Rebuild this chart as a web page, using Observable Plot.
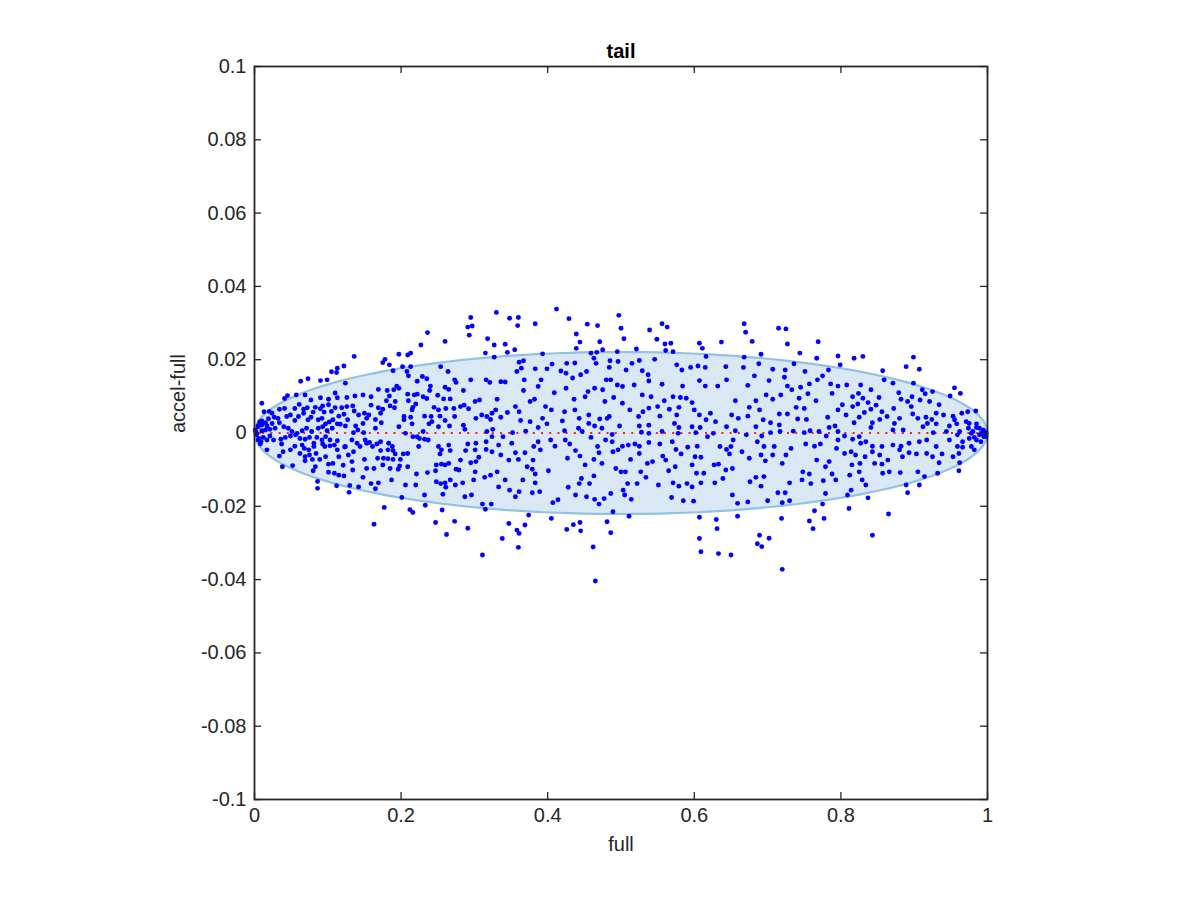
<!DOCTYPE html>
<html>
<head>
<meta charset="utf-8">
<script src="https://cdn.jsdelivr.net/npm/d3@7"></script>
<script src="https://cdn.jsdelivr.net/npm/@observablehq/plot@0.6"></script>
<style>
  html, body { margin: 0; padding: 0; background: #ffffff; }
  #chart svg { display: block; }
</style>
</head>
<body>
<div id="chart"></div>
<script>
// ---- tick values and labels ----
const xTicks = [0, 0.2, 0.4, 0.6, 0.8, 1];
const xTickLabels = ["0", "0.2", "0.4", "0.6", "0.8", "1"];
const yTicks = [-0.1, -0.08, -0.06, -0.04, -0.02, 0, 0.02, 0.04, 0.06, 0.08, 0.1];
const yTickLabels = ["-0.1", "-0.08", "-0.06", "-0.04", "-0.02", "0", "0.02", "0.04", "0.06", "0.08", "0.1"];

// ---- texts ----
const titleText = "tail";
const xLabel = "full";
const yLabel = "accel-full";

// ---- ellipse (center and semi-axes, data units) ----
const ellipseCenter = [0.5, 0];
const ellipseRadii = [0.5, 0.0221];

// ---- reference line ----
const refLineY = [0];

// ---- scatter samples [full, accel-full] ----
const samples = [
[0.136,0.0209],[0.122,0.0183],[0.113,0.0177],[0.112,0.0165],[0.105,0.0167],[0.124,0.0136],[0.063,0.0141],[0.073,0.0148],[0.090,0.0143],[0.099,0.0145],
[0.045,0.0102],[0.041,0.0094],[0.010,0.0081],[0.057,0.0104],[0.069,0.0104],[0.077,0.0090],[0.090,0.0096],[0.101,0.0092],[0.110,0.0109],[0.113,0.0096],
[0.126,0.0097],[0.137,0.0101],[0.148,0.0104],[0.034,0.0065],[0.024,0.0054],[0.020,0.0059],[0.041,0.0067],[0.055,0.0067],[0.061,0.0078],[0.067,0.0065],
[0.072,0.0069],[0.080,0.0057],[0.083,0.0070],[0.090,0.0066],[0.093,0.0074],[0.101,0.0077],[0.095,0.0057],[0.105,0.0059],[0.110,0.0069],[0.119,0.0069],
[0.126,0.0072],[0.134,0.0074],[0.136,0.0060],[0.142,0.0049],[0.150,0.0054],[0.027,0.0043],[0.013,0.0058],[0.007,0.0030],[0.015,0.0028],[0.019,0.0039],
[0.005,0.0017],[0.010,0.0022],[0.017,0.0019],[0.024,0.0026],[0.032,0.0040],[0.034,0.0028],[0.044,0.0045],[0.049,0.0049],[0.055,0.0034],[0.060,0.0045],
[0.067,0.0054],[0.073,0.0036],[0.077,0.0043],[0.087,0.0036],[0.092,0.0040],[0.097,0.0025],[0.102,0.0030],[0.107,0.0036],[0.115,0.0046],[0.117,0.0024],
[0.122,0.0051],[0.127,0.0036],[0.138,0.0019],[0.148,0.0026],[0.153,0.0040],
[0.003,-0.0001],[0.010,0.0006],[0.015,0.0008],[0.021,0.0010],[0.028,0.0013],[0.040,0.0017],[0.046,0.0013],[0.051,0.0004],[0.058,-0.0001],[0.065,0.0006],
[0.071,0.0013],[0.078,0.0004],[0.087,0.0013],[0.093,0.0017],[0.099,0.0006],[0.106,0.0013],[0.113,0.0025],[0.124,0.0019],[0.135,0.0001],[0.141,0.0008],[0.149,0.0001],
[0.005,-0.0019],[0.012,-0.0012],[0.017,-0.0019],[0.021,-0.0008],[0.026,-0.0019],[0.036,-0.0017],[0.042,-0.0012],[0.049,-0.0008],[0.056,-0.0005],[0.062,-0.0015],
[0.069,-0.0017],[0.075,-0.0012],[0.081,-0.0028],[0.085,-0.0012],[0.092,-0.0019],[0.097,-0.0010],[0.103,-0.0019],[0.109,-0.0033],[0.113,-0.0021],[0.124,-0.0037],
[0.133,-0.0019],[0.140,-0.0028],[0.151,-0.0019],[0.008,-0.0030],[0.017,-0.0046],[0.037,-0.0030],[0.049,-0.0046],[0.055,-0.0036],[0.065,-0.0033],[0.068,-0.0042],
[0.074,-0.0046],[0.081,-0.0037],[0.084,-0.0056],[0.093,-0.0030],[0.096,-0.0037],[0.103,-0.0035],[0.113,-0.0046],[0.123,-0.0038],[0.128,-0.0060],[0.135,-0.0051],
[0.144,-0.0037],[0.153,-0.0028],[0.034,-0.0063],[0.039,-0.0051],[0.062,-0.0056],[0.069,-0.0065],[0.075,-0.0060],[0.079,-0.0072],[0.089,-0.0072],[0.097,-0.0065],
[0.101,-0.0085],[0.107,-0.0083],[0.115,-0.0065],[0.121,-0.0088],[0.133,-0.0078],[0.150,-0.0072],[0.038,-0.0092],[0.052,-0.0089],[0.069,-0.0076],[0.083,-0.0092],
[0.080,-0.0103],[0.101,-0.0107],[0.109,-0.0110],[0.115,-0.0115],[0.122,-0.0117],[0.134,-0.0101],[0.148,-0.0121],[0.153,-0.0097],[0.086,-0.0132],[0.086,-0.0151],
[0.112,-0.0144],[0.130,-0.0143],[0.129,-0.0162],[0.142,-0.0147],
[0.001,0.0008],[0.003,-0.0005],[0.006,-0.0015],[0.005,0.0020],[0.010,0.0033],[0.002,0.0002],[0.009,-0.0024],
[0.295,0.0315],[0.291,0.0289],[0.297,0.0292],[0.293,0.0267],[0.318,0.0257],[0.236,0.0274],[0.260,0.0250],[0.227,0.0240],[0.197,0.0215],[0.209,0.0213],
[0.213,0.0218],[0.178,0.0201],[0.175,0.0192],[0.184,0.0186],[0.202,0.0181],[0.213,0.0181],[0.315,0.0218],[0.189,0.0170],[0.208,0.0168],[0.254,0.0181],[0.264,0.0168],
[0.210,0.0156],[0.229,0.0154],[0.235,0.0148],[0.222,0.0141],[0.194,0.0128],[0.197,0.0122],[0.169,0.0119],[0.181,0.0116],[0.190,0.0118],[0.240,0.0128],
[0.239,0.0116],[0.260,0.0125],[0.265,0.0119],[0.273,0.0145],[0.275,0.0138],[0.295,0.0145],[0.316,0.0145],[0.285,0.0116],[0.222,0.0106],[0.230,0.0099],
[0.235,0.0094],[0.218,0.0104],[0.209,0.0106],[0.250,0.0103],[0.184,0.0101],[0.159,0.0099],[0.180,0.0088],[0.192,0.0086],[0.210,0.0088],[0.220,0.0079],
[0.258,0.0093],[0.267,0.0093],[0.301,0.0086],[0.307,0.0090],[0.159,0.0076],[0.169,0.0069],[0.175,0.0065],[0.185,0.0074],[0.191,0.0069],[0.216,0.0070],
[0.215,0.0063],[0.245,0.0070],[0.251,0.0063],[0.261,0.0067],[0.272,0.0067],[0.281,0.0072],[0.286,0.0076],[0.292,0.0066],[0.310,0.0049],[0.317,0.0045],
[0.156,0.0049],[0.172,0.0054],[0.204,0.0045],[0.213,0.0043],[0.232,0.0046],[0.241,0.0045],[0.253,0.0046],[0.260,0.0034],[0.273,0.0045],[0.302,0.0040],
[0.165,0.0037],[0.173,0.0028],[0.197,0.0017],[0.238,0.0025],[0.242,0.0031],[0.251,0.0017],[0.266,0.0019],[0.285,0.0021],[0.287,0.0010],[0.204,0.0036],[0.215,0.0025],
[0.165,0.0013],[0.206,-0.0001],[0.216,-0.0010],[0.222,-0.0010],[0.225,-0.0015],[0.232,-0.0017],[0.237,-0.0019],[0.230,0.0004],[0.317,0.0004],
[0.157,-0.0026],[0.161,-0.0037],[0.167,-0.0030],[0.172,-0.0024],[0.183,-0.0028],[0.188,-0.0037],[0.189,-0.0048],[0.172,-0.0048],[0.182,-0.0046],[0.192,-0.0057],
[0.203,-0.0057],[0.209,-0.0056],[0.224,-0.0037],[0.251,-0.0037],[0.255,-0.0046],[0.253,-0.0057],[0.265,-0.0033],[0.267,-0.0048],[0.288,-0.0048],[0.291,-0.0030],
[0.302,-0.0028],[0.301,-0.0046],[0.316,-0.0024],[0.168,-0.0069],[0.176,-0.0069],[0.182,-0.0070],[0.189,-0.0072],[0.199,-0.0072],[0.209,-0.0092],[0.221,-0.0112],
[0.248,-0.0087],[0.255,-0.0085],[0.260,-0.0087],[0.265,-0.0083],[0.275,-0.0099],[0.279,-0.0101],[0.281,-0.0074],[0.295,-0.0081],[0.302,-0.0078],[0.306,-0.0066],
[0.301,-0.0106],[0.316,-0.0045],[0.163,-0.0097],[0.175,-0.0087],[0.185,-0.0097],[0.187,-0.0128],[0.196,-0.0099],[0.198,-0.0090],[0.236,-0.0108],[0.247,-0.0103],
[0.248,-0.0133],[0.254,-0.0138],[0.260,-0.0136],[0.261,-0.0148],[0.267,-0.0128],[0.274,-0.0142],[0.284,-0.0136],[0.299,-0.0128],[0.314,-0.0121],[0.159,-0.0138],
[0.169,-0.0136],[0.165,-0.0152],[0.206,-0.0142],[0.220,-0.0142],[0.232,-0.0169],[0.257,-0.0167],[0.287,-0.0174],[0.296,-0.0169],[0.311,-0.0194],[0.315,-0.0208],
[0.201,-0.0176],[0.177,-0.0203],[0.212,-0.0209],[0.216,-0.0217],[0.233,-0.0197],[0.256,-0.0210],[0.163,-0.0249],[0.247,-0.0244],[0.273,-0.0241],[0.262,-0.0277],
[0.291,-0.0260],[0.311,-0.0333],
[0.330,0.0329],[0.412,0.0338],[0.348,0.0313],[0.360,0.0315],[0.359,0.0293],[0.383,0.0298],[0.429,0.0312],[0.454,0.0297],[0.468,0.0293],[0.439,0.0270],
[0.444,0.0248],[0.471,0.0249],[0.327,0.0240],[0.342,0.0242],[0.355,0.0227],[0.345,0.0220],[0.327,0.0207],[0.393,0.0216],[0.439,0.0231],[0.459,0.0218],
[0.467,0.0220],[0.475,0.0227],
[0.361,0.0193],[0.367,0.0197],[0.358,0.0168],[0.364,0.0177],[0.368,0.0145],[0.383,0.0175],[0.391,0.0145],[0.399,0.0175],[0.406,0.0188],[0.418,0.0169],
[0.426,0.0190],[0.425,0.0163],[0.434,0.0150],[0.437,0.0191],[0.445,0.0159],[0.453,0.0168],[0.466,0.0190],[0.463,0.0204],[0.480,0.0145],[0.321,0.0138],
[0.342,0.0139],[0.336,0.0140],[0.367,0.0116],[0.387,0.0127],[0.409,0.0110],[0.425,0.0122],[0.436,0.0092],[0.451,0.0099],[0.455,0.0113],[0.464,0.0122],
[0.475,0.0118],[0.478,0.0086],[0.331,0.0092],[0.376,0.0086],[0.382,0.0092],[0.356,0.0072],[0.361,0.0058],[0.345,0.0056],[0.329,0.0063],[0.324,0.0054],
[0.397,0.0072],[0.405,0.0063],[0.393,0.0040],[0.423,0.0058],[0.437,0.0063],[0.443,0.0040],[0.456,0.0049],[0.471,0.0038],[0.481,0.0040],[0.336,0.0043],
[0.322,0.0037],[0.363,0.0034],[0.376,0.0031],[0.387,0.0015],[0.399,0.0025],[0.420,0.0033],[0.442,0.0013],[0.456,0.0026],[0.464,0.0019],[0.325,0.0010],
[0.352,0.0001],[0.370,0.0005],[0.423,0.0006],[0.447,0.0004],[0.474,0.0013],
[0.324,-0.0010],[0.339,-0.0010],[0.351,-0.0028],[0.333,-0.0033],[0.324,-0.0051],[0.336,-0.0060],[0.347,-0.0074],[0.356,-0.0054],[0.360,-0.0072],[0.369,-0.0054],
[0.372,-0.0092],[0.379,-0.0099],[0.381,-0.0037],[0.387,-0.0024],[0.390,-0.0046],[0.380,-0.0074],[0.404,-0.0019],[0.410,-0.0036],[0.424,-0.0019],[0.430,-0.0030],
[0.427,-0.0069],[0.438,-0.0048],[0.444,-0.0063],[0.451,-0.0087],[0.459,-0.0012],[0.468,-0.0037],[0.470,-0.0054],[0.479,-0.0019],[0.474,-0.0083],[0.463,-0.0072],
[0.401,-0.0103],[0.383,-0.0112],[0.383,-0.0136],[0.366,-0.0128],[0.342,-0.0128],[0.331,-0.0106],[0.322,-0.0115],[0.333,-0.0147],[0.348,-0.0156],[0.356,-0.0174],
[0.361,-0.0160],[0.379,-0.0163],[0.389,-0.0160],[0.407,-0.0190],[0.414,-0.0182],[0.428,-0.0148],[0.438,-0.0169],[0.443,-0.0138],[0.446,-0.0124],[0.457,-0.0138],
[0.463,-0.0117],[0.453,-0.0174],[0.464,-0.0181],[0.470,-0.0194],[0.477,-0.0179],[0.323,-0.0194],
[0.374,-0.0224],[0.405,-0.0233],[0.347,-0.0247],[0.358,-0.0265],[0.361,-0.0274],[0.369,-0.0251],[0.338,-0.0288],[0.360,-0.0312],[0.426,-0.0263],[0.435,-0.0250],
[0.444,-0.0244],[0.445,-0.0267],[0.462,-0.0311],[0.481,-0.0242],[0.465,-0.0404],
[0.497,0.0321],[0.500,0.0286],[0.504,0.0257],[0.539,0.0281],[0.556,0.0298],[0.563,0.0289],[0.549,0.0256],[0.560,0.0243],[0.568,0.0245],[0.607,0.0245],
[0.611,0.0231],[0.637,0.0248],[0.561,0.0225],[0.571,0.0222],[0.521,0.0229],[0.495,0.0222],[0.616,0.0209],
[0.485,0.0197],[0.496,0.0195],[0.484,0.0179],[0.515,0.0190],[0.525,0.0198],[0.507,0.0172],[0.529,0.0170],[0.537,0.0159],[0.546,0.0201],[0.576,0.0186],
[0.583,0.0172],[0.595,0.0179],[0.605,0.0183],[0.615,0.0179],[0.643,0.0181],[0.607,0.0143],[0.615,0.0128],[0.632,0.0128],[0.644,0.0145],[0.486,0.0145],
[0.495,0.0131],[0.502,0.0127],[0.518,0.0131],[0.538,0.0142],[0.556,0.0133],[0.584,0.0128],[0.490,0.0097],[0.502,0.0081],[0.512,0.0063],[0.529,0.0104],
[0.541,0.0099],[0.538,0.0068],[0.530,0.0058],[0.524,0.0045],[0.550,0.0072],[0.559,0.0088],[0.566,0.0065],[0.571,0.0099],[0.581,0.0097],[0.589,0.0095],
[0.597,0.0083],[0.600,0.0063],[0.579,0.0070],[0.576,0.0049],[0.553,0.0046],[0.607,0.0049],[0.622,0.0054],[0.629,0.0031],[0.616,0.0036],[0.484,0.0045],
[0.498,0.0019],[0.525,0.0019],[0.538,0.0021],[0.573,0.0026],[0.579,0.0015],[0.597,0.0017],[0.608,0.0015],[0.644,0.0017],
[0.488,-0.0004],[0.528,0.0002],[0.538,-0.0001],[0.556,0.0004],[0.578,-0.0001],[0.602,0.0001],[0.618,-0.0010],[0.626,-0.0001],
[0.488,-0.0024],[0.489,-0.0051],[0.496,-0.0046],[0.502,-0.0036],[0.510,-0.0033],[0.519,-0.0030],[0.525,-0.0036],[0.538,-0.0026],[0.553,-0.0030],[0.570,-0.0024],
[0.575,-0.0045],[0.582,-0.0057],[0.591,-0.0039],[0.604,-0.0036],[0.601,-0.0065],[0.609,-0.0066],[0.635,-0.0037],[0.644,-0.0045],[0.525,-0.0056],[0.513,-0.0072],
[0.493,-0.0097],[0.500,-0.0106],[0.506,-0.0106],[0.527,-0.0106],[0.536,-0.0083],[0.543,-0.0078],[0.557,-0.0063],[0.561,-0.0074],[0.565,-0.0103],[0.574,-0.0092],
[0.597,-0.0087],[0.603,-0.0110],[0.613,-0.0110],[0.627,-0.0087],[0.633,-0.0085],[0.643,-0.0101],[0.639,-0.0124],[0.628,-0.0136],[0.609,-0.0136],[0.597,-0.0147],
[0.590,-0.0138],[0.579,-0.0145],[0.571,-0.0136],[0.569,-0.0176],[0.585,-0.0185],[0.599,-0.0186],[0.534,-0.0121],[0.551,-0.0142],[0.522,-0.0138],[0.509,-0.0138],
[0.503,-0.0156],[0.505,-0.0169],[0.514,-0.0181],[0.486,-0.0165],
[0.489,-0.0215],[0.511,-0.0227],[0.486,-0.0272],[0.607,-0.0230],[0.630,-0.0236],[0.631,-0.0261],[0.607,-0.0288],[0.609,-0.0324],[0.633,-0.0329],
[0.668,0.0298],[0.670,0.0275],[0.715,0.0286],[0.725,0.0284],[0.679,0.0250],[0.727,0.0243],[0.769,0.0249],[0.691,0.0215],[0.744,0.0218],[0.767,0.0204],
[0.796,0.0210],[0.799,0.0186],[0.668,0.0207],
[0.667,0.0179],[0.688,0.0189],[0.682,0.0156],[0.707,0.0174],[0.724,0.0172],[0.736,0.0189],[0.751,0.0168],[0.723,0.0152],[0.702,0.0143],[0.673,0.0130],
[0.727,0.0128],[0.745,0.0125],[0.757,0.0134],[0.768,0.0145],[0.775,0.0156],[0.783,0.0172],[0.786,0.0134],[0.796,0.0128],[0.808,0.0131],[0.656,0.0088],
[0.684,0.0088],[0.698,0.0104],[0.707,0.0092],[0.718,0.0104],[0.733,0.0118],[0.743,0.0095],[0.755,0.0107],[0.766,0.0088],[0.788,0.0108],[0.796,0.0063],
[0.802,0.0077],[0.807,0.0049],[0.675,0.0070],[0.689,0.0063],[0.716,0.0052],[0.727,0.0052],[0.739,0.0070],[0.750,0.0067],[0.753,0.0037],[0.651,0.0049],
[0.660,0.0040],[0.673,0.0046],[0.694,0.0036],[0.704,0.0028],[0.716,0.0022],[0.741,0.0038],[0.782,0.0043],[0.784,0.0015],[0.792,0.0019],
[0.656,0.0006],[0.671,-0.0005],[0.684,0.0017],[0.692,-0.0008],[0.704,0.0001],[0.717,0.0004],[0.735,0.0005],[0.750,0.0001],[0.758,0.0006],[0.770,0.0004],
[0.796,0.0004],[0.805,-0.0008],
[0.653,-0.0019],[0.650,-0.0037],[0.648,-0.0057],[0.665,-0.0051],[0.675,-0.0069],[0.686,-0.0024],[0.695,-0.0037],[0.691,-0.0060],[0.697,-0.0076],[0.707,-0.0060],
[0.709,-0.0037],[0.725,-0.0060],[0.720,-0.0083],[0.732,-0.0042],[0.752,-0.0030],[0.764,-0.0036],[0.772,-0.0030],[0.780,-0.0008],[0.796,-0.0019],[0.794,-0.0042],
[0.805,-0.0056],[0.784,-0.0078],[0.779,-0.0092],[0.767,-0.0074],[0.748,-0.0106],[0.757,-0.0112],[0.788,-0.0112],[0.793,-0.0128],[0.776,-0.0130],[0.759,-0.0138],
[0.747,-0.0128],[0.730,-0.0136],[0.724,-0.0163],[0.714,-0.0163],[0.691,-0.0145],[0.695,-0.0119],[0.684,-0.0121],[0.676,-0.0133],[0.652,-0.0097],[0.652,-0.0169],
[0.659,-0.0192],[0.673,-0.0188],[0.700,-0.0185],[0.720,-0.0190],[0.730,-0.0185],[0.775,-0.0194],[0.779,-0.0165],[0.809,-0.0169],[0.811,-0.0206],
[0.659,-0.0227],[0.719,-0.0233],[0.764,-0.0212],[0.777,-0.0233],[0.757,-0.0240],[0.762,-0.0261],[0.689,-0.0279],[0.702,-0.0287],[0.686,-0.0302],[0.692,-0.0310],
[0.650,-0.0333],[0.720,-0.0372],
[0.830,0.0209],[0.818,0.0204],[0.899,0.0207],[0.889,0.0181],[0.907,0.0174],[0.857,0.0170],[0.859,0.0145],[0.871,0.0136],[0.899,0.0136],[0.955,0.0123],
[0.963,0.0108],[0.949,0.0101],[0.925,0.0113],[0.911,0.0118],
[0.827,0.0131],[0.841,0.0118],[0.852,0.0097],[0.824,0.0108],[0.830,0.0095],[0.816,0.0099],[0.823,0.0079],[0.816,0.0072],[0.837,0.0083],[0.841,0.0065],
[0.832,0.0056],[0.848,0.0076],[0.856,0.0058],[0.863,0.0045],[0.872,0.0067],[0.879,0.0110],[0.882,0.0092],[0.891,0.0086],[0.897,0.0099],[0.908,0.0090],
[0.915,0.0107],[0.896,0.0072],[0.898,0.0052],[0.905,0.0040],[0.916,0.0043],[0.924,0.0037],[0.918,0.0026],[0.930,0.0054],[0.940,0.0049],[0.953,0.0046],
[0.955,0.0036],[0.965,0.0054],[0.973,0.0058],[0.984,0.0060],[0.934,0.0077],[0.921,0.0086],[0.880,0.0040],[0.873,0.0026],[0.853,0.0037],[0.843,0.0028],
[0.825,0.0043],[0.818,0.0028],[0.841,0.0015],[0.912,0.0017],[0.930,0.0025],[0.948,0.0019],[0.958,0.0025],[0.975,0.0026],[0.985,0.0025],[0.989,0.0013],
[0.871,0.0008],[0.885,0.0008],[0.926,0.0001],[0.944,0.0004],[0.962,0.0004],[0.978,-0.0001],[0.982,-0.0012],[0.991,-0.0001],[0.995,-0.0010],[0.998,-0.0001],
[0.996,0.0004],[0.985,-0.0019],
[0.825,-0.0010],[0.816,-0.0017],[0.827,-0.0028],[0.834,-0.0024],[0.843,-0.0036],[0.856,-0.0037],[0.871,-0.0033],[0.882,-0.0036],[0.893,-0.0028],[0.907,-0.0024],
[0.917,-0.0019],[0.930,-0.0037],[0.948,-0.0019],[0.959,-0.0037],[0.966,-0.0039],[0.978,-0.0037],[0.982,-0.0046],[0.814,-0.0051],[0.820,-0.0060],[0.833,-0.0065],
[0.843,-0.0051],[0.853,-0.0060],[0.864,-0.0074],[0.880,-0.0046],[0.893,-0.0054],[0.884,-0.0065],[0.903,-0.0057],[0.917,-0.0056],[0.925,-0.0065],[0.938,-0.0057],
[0.953,-0.0065],[0.961,-0.0056],[0.962,-0.0081],[0.815,-0.0087],[0.826,-0.0083],[0.846,-0.0083],[0.856,-0.0085],[0.857,-0.0110],[0.866,-0.0106],[0.881,-0.0108],
[0.905,-0.0106],[0.914,-0.0119],[0.934,-0.0081],[0.932,-0.0110],[0.961,-0.0103],[0.812,-0.0115],[0.825,-0.0106],[0.829,-0.0128],[0.834,-0.0142],[0.814,-0.0156],
[0.889,-0.0142],[0.907,-0.0142],[0.891,-0.0163],[0.837,-0.0177],[0.865,-0.0221],[0.843,-0.0279],
[0.980,0.0004],[0.989,-0.0005],[0.996,-0.0001],[0.985,0.0015],[0.974,0.0013],[0.994,0.0008],[0.998,-0.0010],[0.975,-0.0015],[0.966,-0.0024],[0.959,-0.0005],
[0.991,-0.0024],[0.971,0.0031]
];

// ---- build tables ----
const rows = samples.map(([full, accel]) => ({full, accel}));
const [cx, cy] = ellipseCenter;
const [rx, ry] = ellipseRadii;
const ellipseOutline = d3.range(0, 361, 2).map(deg => {
  const t = deg * Math.PI / 180;
  return {full: cx + rx * Math.cos(t), accel: cy + ry * Math.sin(t)};
});
const ellipseBand = d3.range(0, 181, 2).map(deg => {
  const t = deg * Math.PI / 180;
  return {full: cx + rx * Math.cos(t), lo: cy - ry * Math.sin(t), hi: cy + ry * Math.sin(t)};
});

const FONT = "'Liberation Sans', Arial, Helvetica, sans-serif";
const INK = "#262626";
const FS = 20;

const chart = Plot.plot({
  width: 1200,
  height: 900,
  marginLeft: 254,
  marginRight: 213,
  marginTop: 66,
  marginBottom: 101,
  style: {fontFamily: FONT, fontSize: FS + "px", color: INK, background: "#ffffff"},
  x: {domain: [0, 1]},
  y: {domain: [-0.1, 0.1]},
  marks: [
    Plot.areaY(ellipseBand, {x: "full", y1: "lo", y2: "hi", fill: "#d9e8f4", curve: "linear"}),
    Plot.line(ellipseOutline, {x: "full", y: "accel", stroke: "#93c1e1", strokeWidth: 2.2}),
    Plot.ruleY(refLineY, {stroke: "#ff1a1a", strokeWidth: 2, strokeDasharray: "2,6.2"}),
    Plot.dot(rows, {x: "full", y: "accel", r: 2.45, fill: "#0000ff", stroke: null}),
    // inward ticks on all four sides
    Plot.tickX(xTicks, {x: d => d, insetTop: 726, stroke: INK, strokeWidth: 1.3}),
    Plot.tickX(xTicks, {x: d => d, insetBottom: 726, stroke: INK, strokeWidth: 1.3}),
    Plot.tickY(yTicks, {y: d => d, insetRight: 726, stroke: INK, strokeWidth: 1.3}),
    Plot.tickY(yTicks, {y: d => d, insetLeft: 726, stroke: INK, strokeWidth: 1.3}),
    Plot.frame({stroke: INK, strokeWidth: 1.8}),
    Plot.axisX(xTicks, {tickSize: 0, tickPadding: 8, fontSize: FS, fill: INK, label: null,
      tickFormat: d => xTickLabels[xTicks.indexOf(d)]}),
    Plot.axisY(yTicks, {tickSize: 0, tickPadding: 8, fontSize: FS, fill: INK, label: null,
      tickFormat: d => yTickLabels[yTicks.indexOf(d)]}),
    Plot.text([titleText], {frameAnchor: "top", dy: -23, fontSize: FS, fontWeight: "bold", fill: "#000000"}),
    Plot.text([xLabel], {frameAnchor: "bottom", dy: 51, fontSize: FS, fill: INK}),
    Plot.text([yLabel], {frameAnchor: "left", dx: -76, rotate: -90, fontSize: FS, fill: INK})
  ]
});
document.getElementById("chart").appendChild(chart);
</script>
</body>
</html>
